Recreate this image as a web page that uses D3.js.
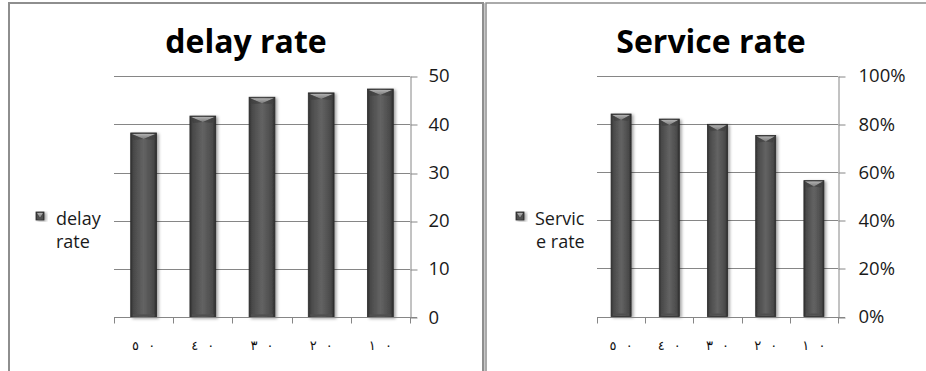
<!DOCTYPE html>
<html>
<head>
<meta charset="utf-8">
<script src="https://cdn.jsdelivr.net/npm/d3@7/dist/d3.min.js"></script>
<style>
  html, body { margin: 0; padding: 0; background: #fff; }
  svg { display: block; }
</style>
</head>
<body>
<svg id="chart" width="926" height="371"></svg>
<script>
// Category labels (Arabic-Indic numerals)
const categories = ["٥٠", "٤٠", "٣٠", "٢٠", "١٠"];
// Series values
const delayRate = [38.2, 41.7, 45.6, 46.5, 47.3];
const serviceRate = [0.842, 0.821, 0.799, 0.753, 0.565];
// Axis tick values
const delayTicks = [0, 10, 20, 30, 40, 50];
const serviceTicks = [0, 0.2, 0.4, 0.6, 0.8, 1.0];
// Titles and legend labels
const delayTitle = "delay rate";
const serviceTitle = "Service rate";
const delayLegend = ["delay", "rate"];
const serviceLegend = ["Servic", "e rate"];

const svg = d3.select("#chart");
const FONT = "'Open Sans', sans-serif";

// Gradients for the bevelled column look
const defs = svg.append("defs");
const body = defs.append("linearGradient").attr("id", "barBody")
  .attr("x1", 0).attr("x2", 1).attr("y1", 0).attr("y2", 0);
[[0, "#303030"], [0.12, "#4a4a4a"], [0.5, "#636363"], [0.88, "#4a4a4a"], [1, "#2c2c2c"]]
  .forEach(([o, c]) => body.append("stop").attr("offset", o).attr("stop-color", c));
const cap = defs.append("linearGradient").attr("id", "barCap")
  .attr("x1", 0).attr("x2", 0).attr("y1", 0).attr("y2", 1);
[[0, "#b0b0b0"], [1, "#7a7a7a"]]
  .forEach(([o, c]) => cap.append("stop").attr("offset", o).attr("stop-color", c));
const shadow = defs.append("filter").attr("id", "barShadow")
  .attr("x", "-30%").attr("y", "-10%").attr("width", "170%").attr("height", "130%");
shadow.append("feDropShadow").attr("dx", 2).attr("dy", 1)
  .attr("stdDeviation", 1.6).attr("flood-color", "#000").attr("flood-opacity", 0.35);

// Chart frames
const frame = svg.append("g").attr("fill", "none").attr("stroke", "#8e8e8e");
frame.append("path").attr("stroke-width", 2)
  .attr("d", "M9,371 V3 H483 V371");
frame.append("path").attr("stroke-width", 1.5)
  .attr("d", "M486,371 V3 H926");
frame.append("path").attr("stroke-width", 1).attr("stroke", "#c8c8c8")
  .attr("d", "M484.5,3 V371");

function drawBar(g, x, y, w, h) {
  const bar = g.append("g").attr("filter", "url(#barShadow)");
  bar.append("rect").attr("x", x).attr("y", y).attr("width", w).attr("height", h)
    .attr("fill", "url(#barBody)").attr("stroke", "#2a2a2a").attr("stroke-width", 0.8);
  const capH = Math.min(6, h);
  bar.append("path")
    .attr("d", `M${x + 1},${y + 1} H${x + w - 1} L${x + w / 2},${y + capH} Z`)
    .attr("fill", "url(#barCap)");
  bar.append("path")
    .attr("d", `M${x + 1},${y + 1} L${x + w / 2},${y + capH} L${x + 3},${y + capH + 1} Z`)
    .attr("fill", "#3d3d3d").attr("opacity", 0.6);
  bar.append("path")
    .attr("d", `M${x + w - 1},${y + 1} L${x + w / 2},${y + capH} L${x + w - 3},${y + capH + 1} Z`)
    .attr("fill", "#3d3d3d").attr("opacity", 0.6);
  bar.append("rect").attr("x", x + 2).attr("y", y + h - 3).attr("width", w - 4).attr("height", 2)
    .attr("fill", "#505050");
}

// Spread the digits of a category label apart, keeping them in left-to-right order
const spread = s => Array.from(s).join("\u200E\u2002\u2009\u200E");

function drawChart(opt) {
  const g = svg.append("g");
  const x = d3.scaleBand().domain(categories).range([opt.left, opt.right]).padding(0);
  const y = d3.scaleLinear().domain([opt.ticks[0], opt.ticks[opt.ticks.length - 1]])
    .range([opt.bottom, opt.top]);

  // Title
  g.append("text").attr("x", opt.titleX).attr("y", 53)
    .attr("text-anchor", "middle").attr("font-family", FONT)
    .attr("font-weight", 700).attr("font-size", opt.titleSize).attr("fill", "#000")
    .text(opt.title);

  // Horizontal gridlines
  g.append("g").selectAll("line").data(opt.ticks.slice(1)).join("line")
    .attr("x1", opt.left).attr("x2", opt.right)
    .attr("y1", d => Math.round(y(d)) + 0.5).attr("y2", d => Math.round(y(d)) + 0.5)
    .attr("stroke", "#868686").attr("stroke-width", 1);

  // Value axis on the right
  const yAxis = d3.axisRight(y).tickValues(opt.ticks).tickFormat(opt.format)
    .tickSizeInner(7).tickSizeOuter(0).tickPadding(opt.labelPad);
  const ya = g.append("g").attr("transform", `translate(${Math.round(opt.right) + 0.5},0)`)
    .call(yAxis);
  ya.select(".domain").attr("stroke", "#868686");
  ya.selectAll(".tick line").attr("stroke", "#868686")
    .attr("transform", d => `translate(0,${Math.round(y(d)) + 0.5 - y(d)})`);
  ya.selectAll(".tick text").attr("font-family", FONT).attr("font-size", 18.5)
    .attr("fill", "#1a1a1a");

  // Bars
  const bw = x.bandwidth() * opt.barRatio;
  opt.values.forEach((v, i) => {
    const bx = x(categories[i]) + (x.bandwidth() - bw) / 2;
    drawBar(g, bx, y(v), bw, y(0) - y(v));
  });

  // Category axis along the bottom
  const y0 = Math.round(y(0)) + 0.5;
  g.append("line").attr("x1", opt.left).attr("x2", opt.right + 7)
    .attr("y1", y0).attr("y2", y0).attr("stroke", "#868686");
  const bounds = categories.map(c => x(c)).concat([x(categories[categories.length - 1]) + x.bandwidth()]);
  g.append("g").selectAll("line").data(bounds).join("line")
    .attr("x1", d => Math.round(d) + 0.5).attr("x2", d => Math.round(d) + 0.5)
    .attr("y1", y0).attr("y2", y0 + 6).attr("stroke", "#868686");
  g.append("g").selectAll("text").data(categories).join("text")
    .attr("x", d => x(d) + x.bandwidth() / 2).attr("y", 350)
    .attr("text-anchor", "middle").attr("font-family", "'DejaVu Sans', sans-serif")
    .attr("font-size", 13).attr("fill", "#111")
    .text(d => spread(d));

  // Legend
  const lg = g.append("g");
  drawBar(lg, opt.legendX, opt.legendY, 8, 8);
  lg.selectAll("text").data(opt.legend).join("text")
    .attr("x", (d, i) => opt.legendX + opt.legendIndent[i])
    .attr("y", (d, i) => 225 + i * 23)
    .attr("font-family", FONT).attr("font-size", 18).attr("fill", "#1a1a1a")
    .text(d => d);
}

drawChart({
  title: delayTitle, titleX: 246, titleSize: 32,
  left: 114, right: 410, top: 76, bottom: 317.3,
  ticks: delayTicks, values: delayRate, format: d3.format("d"),
  labelPad: 11, barRatio: 0.435,
  legend: delayLegend, legendX: 36, legendY: 212, legendIndent: [20, 20]
});

drawChart({
  title: serviceTitle, titleX: 711, titleSize: 32,
  left: 597, right: 838, top: 76, bottom: 316.5,
  ticks: serviceTicks, values: serviceRate, format: d3.format(".0%"),
  labelPad: 13, barRatio: 0.415,
  legend: serviceLegend, legendX: 516, legendY: 212, legendIndent: [19, 20]
});
</script>
</body>
</html>
